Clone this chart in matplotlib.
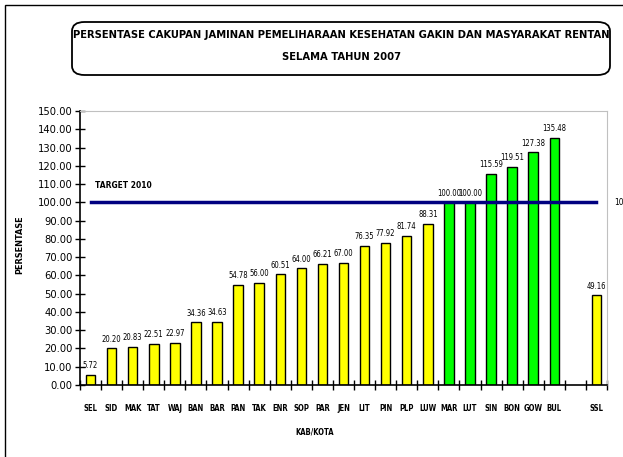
import matplotlib.pyplot as plt
from matplotlib.patches import FancyBboxPatch, Rectangle

plt.rcParams['font.family'] = ['DejaVu Sans']
plt.rcParams['font.stretch'] = 'condensed'

# data
regions = ["SEL", "SID", "MAK", "TAT", "WAJ", "BAN", "BAR", "PAN", "TAK", "ENR",
           "SOP", "PAR", "JEN", "LIT", "PIN", "PLP", "LUW", "MAR", "LUT", "SIN",
           "BON", "GOW", "BUL", "", "SSL"]
coverage = [5.72, 20.20, 20.83, 22.51, 22.97, 34.36, 34.63, 54.78, 56.00, 60.51,
            64.00, 66.21, 67.00, 76.35, 77.92, 81.74, 88.31, 100.00, 100.00, 115.59,
            119.51, 127.38, 135.48, None, 49.16]
target = 100
yTicks = list(range(0, 151, 10))

fig = plt.figure(figsize=(6.23, 4.57), dpi=100)

# outer frame and title box
fig.patches.append(Rectangle((5 / 623, -0.05), 1.1, 1 - 5 / 457 + 0.05,
                             transform=fig.transFigure, fill=False,
                             edgecolor='black', linewidth=1))
fig.patches.append(FancyBboxPatch((72 / 623, 1 - 75 / 457), 538 / 623, 53 / 457,
                                  boxstyle="round,pad=0,rounding_size=0.02",
                                  transform=fig.transFigure, fill=False,
                                  edgecolor='black', linewidth=1.3))
fig.text(341 / 623, 1 - 35 / 457,
         "PERSENTASE CAKUPAN JAMINAN PEMELIHARAAN KESEHATAN GAKIN DAN MASYARAKAT RENTAN",
         ha='center', va='center', fontsize=8, fontweight='bold')
fig.text(341 / 623, 1 - 57 / 457, "SELAMA TAHUN 2007",
         ha='center', va='center', fontsize=8, fontweight='bold')

ax = fig.add_axes([80 / 623, 72 / 457, 527 / 623, 274 / 457])

for i, v in enumerate(coverage):
    if v is None:
        continue
    color = '#00FF00' if (v >= target and regions[i] != "SSL") else '#FFFF00'
    ax.bar(i, v, width=0.45, color=color, edgecolor='black', linewidth=1)
    ax.text(i, v + 2.5, "%.2f" % v, ha='center', va='bottom', fontsize=5.5)

ax.plot([0, len(regions) - 1], [target, target], color='#000080', linewidth=2.5)
ax.text(0.2, target + 7, "TARGET 2010", fontsize=6, fontweight='bold', va='bottom')
ax.text(len(regions) - 0.15, target, "100", fontsize=6, va='center', clip_on=False)

ax.set_xlim(-0.5, len(regions) - 0.5)
ax.set_ylim(0, 150)
ax.set_yticks(yTicks)
ax.set_yticklabels(["%.2f" % t for t in yTicks], fontsize=8)
ax.set_xticks(range(len(regions)))
ax.set_xticklabels(regions, fontsize=5.5, fontweight='bold')
ax.set_xticks([i - 0.5 for i in range(len(regions) + 1)], minor=True)
ax.tick_params(axis='x', which='major', length=0, pad=14)
ax.tick_params(axis='x', which='minor', direction='inout', length=7, width=1)
ax.tick_params(axis='y', direction='inout', length=7, width=1, pad=2)

for side in ['top', 'right']:
    ax.spines[side].set_color('#c0c0c0')
for side in ['left', 'bottom']:
    ax.spines[side].set_linewidth(1.2)

fig.text(315 / 623, 1 - 432 / 457, "KAB/KOTA", ha='center', va='center',
         fontsize=5.5, fontweight='bold')
fig.text(20 / 623, 1 - 245 / 457, "PERSENTASE", rotation=90, ha='center',
         va='center', fontsize=6.5, fontweight='bold')

fig.savefig("out.png", dpi=100)
